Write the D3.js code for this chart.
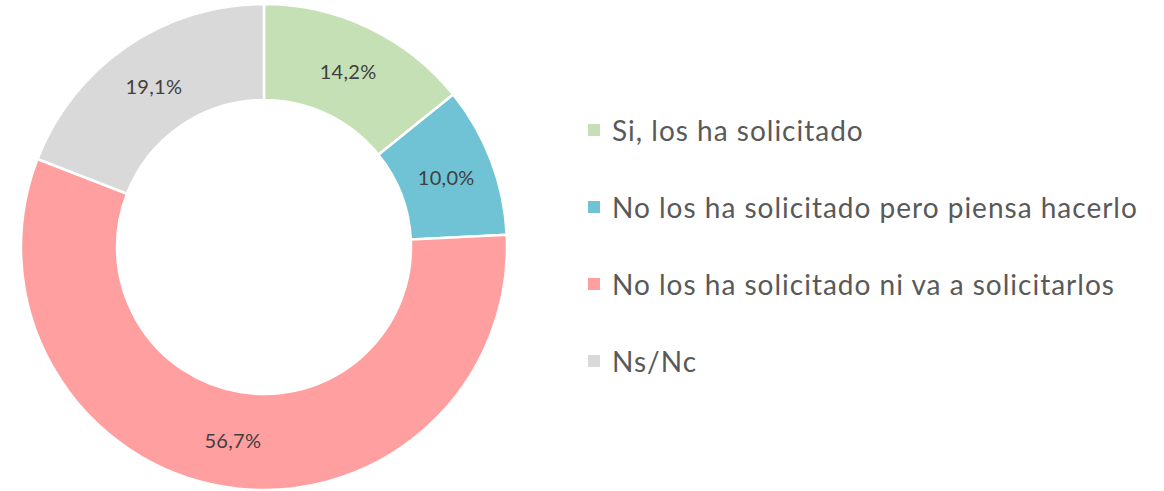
<!DOCTYPE html>
<html>
<head>
<meta charset="utf-8">
<script src="https://cdn.jsdelivr.net/npm/d3@7"></script>
<style>
  html, body { margin: 0; padding: 0; background: #ffffff; }
  svg { display: block; }
</style>
</head>
<body>
<svg id="chart" width="1164" height="491"></svg>
<script>
// Share of respondents by whether they have requested the aid
const categories = [
  "Si, los ha solicitado",
  "No los ha solicitado pero piensa hacerlo",
  "No los ha solicitado ni va a solicitarlos",
  "Ns/Nc"
];
const values = [14.2, 10.0, 56.7, 19.1];
const colors = ["#C5E0B4", "#70C3D5", "#FF9F9F", "#D9D9D9"];

const fmt = v => v.toFixed(1).replace(".", ",") + "%";
const fontFamily = "Lato, 'Open Sans', sans-serif";

const svg = d3.select("#chart");
const cx = 264, cy = 247;
const outerR = 243, innerR = 147;

const data = categories.map((c, i) => ({ name: c, value: values[i], color: colors[i] }));

const pie = d3.pie().sort(null).value(d => d.value);
const arc = d3.arc().innerRadius(innerR).outerRadius(outerR);
const labelArc = d3.arc().innerRadius((innerR + outerR) / 2).outerRadius((innerR + outerR) / 2);

const g = svg.append("g").attr("transform", `translate(${cx},${cy})`);
const arcs = pie(data);

g.selectAll("path.slice")
  .data(arcs)
  .join("path")
  .attr("class", "slice")
  .attr("d", arc)
  .attr("fill", d => d.data.color)
  .attr("stroke", "#ffffff")
  .attr("stroke-width", 2.5)
  .attr("stroke-linejoin", "miter");

g.selectAll("text.value")
  .data(arcs)
  .join("text")
  .attr("class", "value")
  .attr("transform", d => `translate(${labelArc.centroid(d)})`)
  .attr("text-anchor", "middle")
  .attr("dominant-baseline", "central")
  .attr("font-family", fontFamily)
  .attr("font-size", 20)
  .attr("letter-spacing", 0.3)
  .attr("fill", "#404040")
  .text(d => fmt(d.data.value));

// Legend
const legendX = 588, legendY0 = 130, legendStep = 77;
const legend = svg.append("g");
const rows = legend.selectAll("g.row")
  .data(data)
  .join("g")
  .attr("class", "row")
  .attr("transform", (d, i) => `translate(${legendX},${legendY0 + i * legendStep})`);

rows.append("rect")
  .attr("x", 0)
  .attr("y", -6)
  .attr("width", 12)
  .attr("height", 12)
  .attr("fill", d => d.color);

rows.append("text")
  .attr("x", 24)
  .attr("y", 0)
  .attr("dominant-baseline", "central")
  .attr("font-family", fontFamily)
  .attr("font-size", 28)
  .attr("letter-spacing", 1)
  .attr("fill", "#595959")
  .text(d => d.name);
</script>
</body>
</html>
